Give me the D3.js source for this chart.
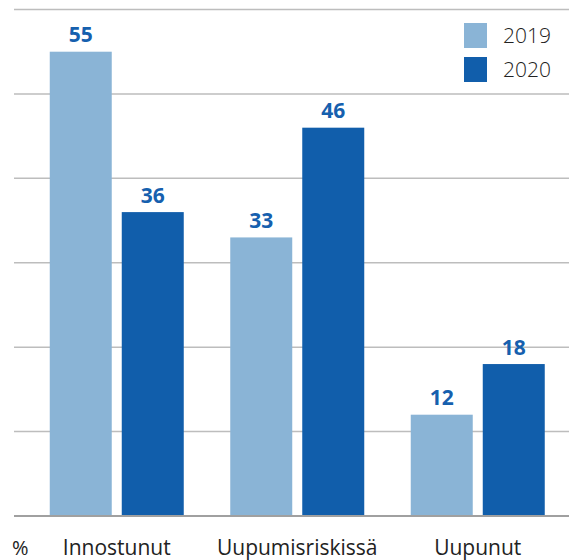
<!DOCTYPE html>
<html>
<head>
<meta charset="utf-8">
<script src="https://cdn.jsdelivr.net/npm/d3@7"></script>
<style>
    body { margin: 0; background: #fff; }
    svg { display: block; }
</style>
</head>
<body>
<div id="viz-container"></div>
<script>
let categories = ['Innostunut', 'Uupumisriskissä', 'Uupunut'];
let years = ['2019', '2020'];
let values2019 = [55, 33, 12];
let values2020 = [36, 46, 18];
let yTicks = [0, 10, 20, 30, 40, 50, 60];

let w = 569, h = 560;
let colors = { '2019': '#8ab4d6', '2020': '#115eab' };

let viz = d3.select('#viz-container')
    .append('svg')
    .attr('width', w)
    .attr('height', h);

let data = [];
categories.forEach((c, i) => {
    data.push({ category: c, year: '2019', value: values2019[i] });
    data.push({ category: c, year: '2020', value: values2020[i] });
});

let y = d3.scaleLinear().domain([0, 60]).range([516, 9.5]);
let x = d3.scaleBand().domain(categories).range([26.5, 568]);
let xInner = d3.scaleBand().domain(years).range([0, 134]).paddingInner(0.139);
let groupOffset = (x.bandwidth() - 134) / 2;

// gridlines
viz.selectAll('line.grid').data(yTicks.filter(t => t > 0)).enter()
    .append('line')
    .attr('class', 'grid')
    .attr('x1', 14)
    .attr('x2', w)
    .attr('y1', d => y(d))
    .attr('y2', d => y(d))
    .attr('stroke', '#bdbdbd')
    .attr('stroke-width', 1.5);

viz.selectAll('rect.bar').data(data).enter()
    .append('rect')
    .attr('class', 'bar')
    .attr('x', d => x(d.category) + groupOffset + xInner(d.year))
    .attr('y', d => y(d.value))
    .attr('width', xInner.bandwidth())
    .attr('height', d => y(0) - y(d.value))
    .attr('fill', d => colors[d.year]);

// baseline
viz.append('line')
    .attr('x1', 14)
    .attr('x2', w)
    .attr('y1', y(0))
    .attr('y2', y(0))
    .attr('stroke', '#a0a0a0')
    .attr('stroke-width', 2);

// value labels
viz.selectAll('text.value').data(data).enter()
    .append('text')
    .attr('class', 'value')
    .attr('x', d => x(d.category) + groupOffset + xInner(d.year) + xInner.bandwidth() / 2)
    .attr('y', d => y(d.value) - 9.5)
    .attr('text-anchor', 'middle')
    .attr('font-family', 'Open Sans')
    .attr('font-weight', 700)
    .attr('font-size', '21px')
    .attr('fill', '#1660ae')
    .text(d => d.value);

// category labels
viz.selectAll('text.cat').data(categories).enter()
    .append('text')
    .attr('class', 'cat')
    .attr('x', d => x(d) + x.bandwidth() / 2)
    .attr('y', 555)
    .attr('text-anchor', 'middle')
    .attr('font-family', 'Open Sans')
    .attr('font-size', '21px')
    .attr('fill', '#222')
    .text(d => d);

viz.append('text')
    .attr('x', 12)
    .attr('y', 555)
    .attr('font-family', 'Open Sans')
    .attr('font-size', '20px')
    .attr('fill', '#222')
    .text('%');

// legend
let legend = viz.selectAll('g.legend').data(years).enter()
    .append('g')
    .attr('class', 'legend')
    .attr('transform', (d, i) => `translate(464, ${23 + i * 34})`);

legend.append('rect')
    .attr('width', 23)
    .attr('height', 25)
    .attr('fill', d => colors[d]);

legend.append('text')
    .attr('x', 39)
    .attr('y', 19.5)
    .attr('font-family', 'Open Sans')
    .attr('font-weight', 300)
    .attr('font-size', '21px')
    .attr('fill', '#222')
    .text(d => d);
</script>
</body>
</html>
